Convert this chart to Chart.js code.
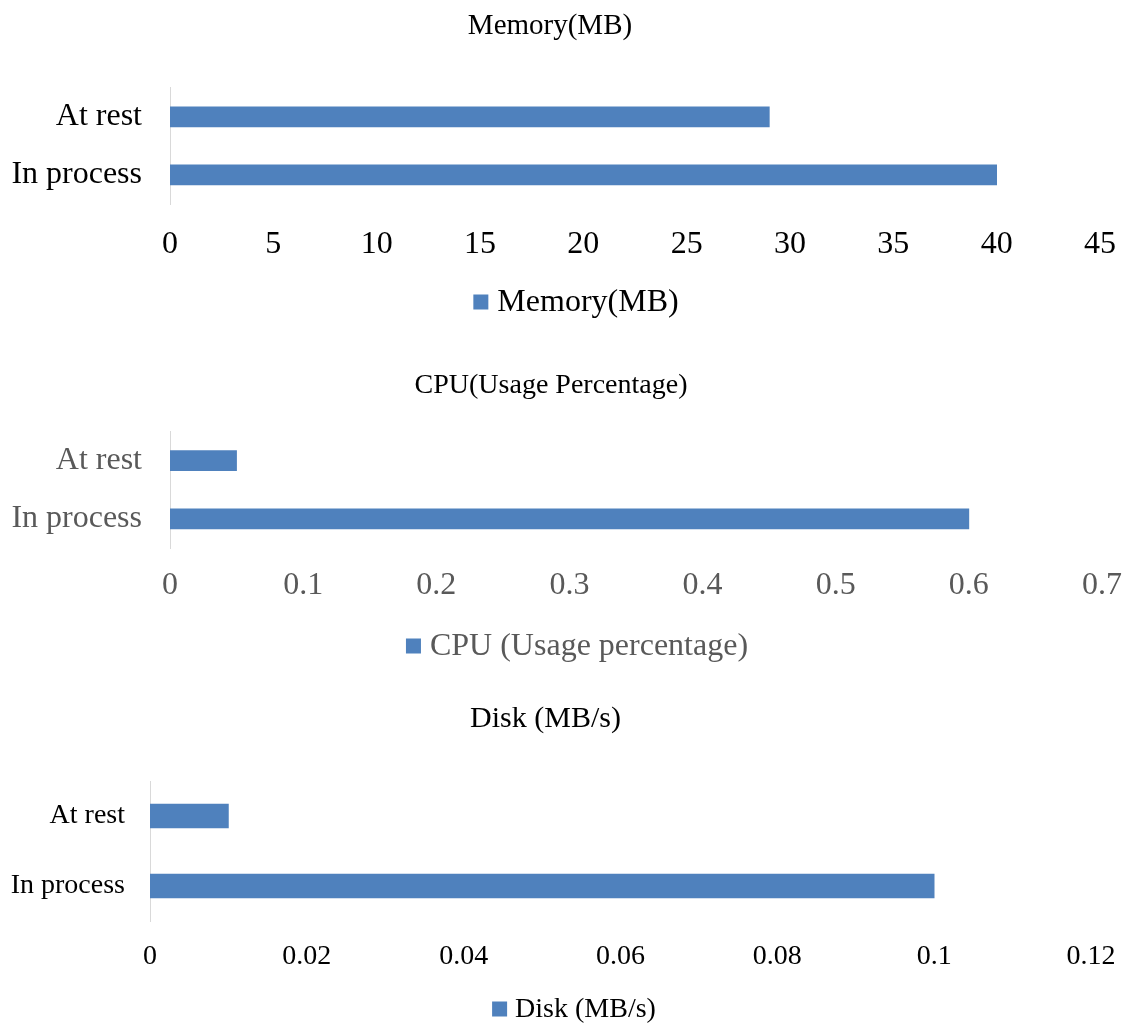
<!DOCTYPE html>
<html lang="en">
<head>
    <meta charset="UTF-8">
    <title>Memory, CPU and Disk</title>
    <script src="https://cdn.jsdelivr.net/npm/chart.js@4.4.1/dist/chart.umd.min.js"></script>
    <style>
        html, body { margin: 0; background: #fff; overflow: hidden; }
        .box { position: absolute; left: 0; width: 1123px; }
    </style>
</head>
<body>
    <div class="box" style="top:0px;height:329px"><canvas id="memChart"></canvas></div>
    <div class="box" style="top:360px;height:312px"><canvas id="cpuChart"></canvas></div>
    <div class="box" style="top:690px;height:343px"><canvas id="diskChart"></canvas></div>

    <script>
        // datos
        const categories = ['At rest', 'In process'];
        const memoryValues = [29, 40];
        const cpuValues = [0.05, 0.6];
        const diskValues = [0.01, 0.1];

        const memTicks = { max: 45, step: 5 };
        const cpuTicks = { max: 0.7, step: 0.1 };
        const diskTicks = { max: 0.12, step: 0.02 };

        const barColor = '#4f81bd';
        const serif = "'Liberation Serif', 'Times New Roman', serif";

        // leyenda de un solo item, un poco corrida a la derecha como en el original
        const legendPlugin = {
            id: 'oneLegend',
            afterDraw(chart, args, o) {
                const ctx = chart.ctx;
                const text = chart.data.datasets[0].label;
                ctx.save();
                ctx.font = o.size + 'px ' + serif;
                const tw = ctx.measureText(text).width;
                const x = o.cx - (o.box + o.gap + tw) / 2;
                const y = o.cy;
                ctx.fillStyle = barColor;
                ctx.fillRect(x, y - o.box / 2, o.box, o.box);
                ctx.fillStyle = o.color;
                ctx.textBaseline = 'middle';
                ctx.fillText(text, x + o.box + o.gap, y + 1);
                ctx.restore();
            }
        };

        function makeChart(id, cfg) {
            return new Chart(document.getElementById(id), {
                type: 'bar',
                data: {
                    labels: categories,
                    datasets: [{
                        label: cfg.legend,
                        data: cfg.values,
                        backgroundColor: barColor,
                        borderWidth: 0,
                        barThickness: cfg.barH
                    }]
                },
                plugins: [legendPlugin],
                options: {
                    indexAxis: 'y',
                    responsive: true,
                    maintainAspectRatio: false,
                    animation: false,
                    layout: { padding: { left: 0, right: cfg.padRight, top: 0, bottom: cfg.legendH } },
                    plugins: {
                        title: {
                            display: true,
                            text: cfg.title,
                            color: '#000',
                            font: { family: serif, size: cfg.titleSize, weight: 'normal' },
                            padding: { top: cfg.titleTop, bottom: cfg.titleBottom }
                        },
                        legend: { display: false },
                        oneLegend: {
                            size: cfg.fontSize, color: cfg.textColor,
                            box: cfg.box, gap: cfg.gap, cx: cfg.legendX, cy: cfg.legendY
                        },
                        tooltip: { enabled: false }
                    },
                    scales: {
                        x: {
                            min: 0,
                            max: cfg.ticks.max,
                            // tick marks are hidden; tickLength only pushes the labels down
                            grid: { display: false, drawTicks: true, tickLength: cfg.xPad },
                            border: { display: false },
                            ticks: {
                                stepSize: cfg.ticks.step,
                                color: cfg.textColor,
                                font: { family: serif, size: cfg.fontSize },
                                padding: 0,
                                maxRotation: 0,
                                callback: v => String(Number(v.toFixed(4)))
                            },
                            afterFit: s => { s.height = cfg.xHeight; }
                        },
                        y: {
                            grid: { display: false, drawTicks: false },
                            border: { display: true, color: '#d9d9d9', width: 1 },
                            ticks: {
                                color: cfg.textColor,
                                font: { family: serif, size: cfg.fontSize },
                                padding: cfg.yPad
                            },
                            afterFit: s => { s.width = cfg.yWidth; }
                        }
                    }
                }
            });
        }

        makeChart('memChart', {
            title: 'Memory(MB)', legend: 'Memory(MB)', values: memoryValues, ticks: memTicks,
            titleSize: 29, titleTop: 9, titleBottom: 44, fontSize: 32, textColor: '#000',
            box: 15, gap: 9, legendX: 576, legendY: 302, legendH: 52,
            barH: 20, padRight: 23, yWidth: 170, yPad: 28, xHeight: 73, xPad: 21
        });

        makeChart('cpuChart', {
            title: 'CPU(Usage Percentage)', legend: 'CPU (Usage percentage)', values: cpuValues, ticks: cpuTicks,
            titleSize: 28, titleTop: 9, titleBottom: 29, fontSize: 32, textColor: '#595959',
            box: 15, gap: 9, legendX: 577, legendY: 286, legendH: 52,
            barH: 20, padRight: 21, yWidth: 170, yPad: 28, xHeight: 72, xPad: 18
        });

        makeChart('diskChart', {
            title: 'Disk (MB/s)', legend: 'Disk (MB/s)', values: diskValues, ticks: diskTicks,
            titleSize: 30, titleTop: 11, titleBottom: 44, fontSize: 28, textColor: '#000',
            box: 15, gap: 8, legendX: 574, legendY: 319, legendH: 48,
            barH: 24, padRight: 32, yWidth: 150, yPad: 25, xHeight: 64, xPad: 19
        });
    </script>
</body>
</html>
